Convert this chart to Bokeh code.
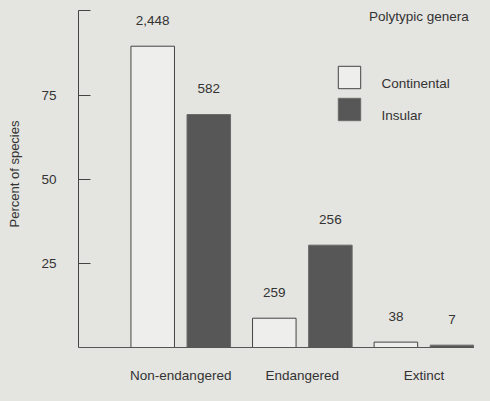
from bokeh.plotting import figure
from bokeh.models import (ColumnDataSource, FixedTicker, Legend, LegendItem, Label, Range1d)
from bokeh.core.properties import value
from bokeh.embed import file_html
from bokeh.resources import INLINE
import numpy as np

# ---- data ----
categories = ["Non-endangered", "Endangered", "Extinct"]
continental_pct = [89.5, 8.7, 1.6]
insular_pct = [69.2, 30.4, 0.7]
continental_n = ["2,448", "259", "38"]
insular_n = ["582", "256", "7"]
series_names = ["Continental", "Insular"]
y_ticks = [25, 50, 75, 100]
y_title = "Percent of species"
panel_title = "Polytypic genera"

BG = "#e4e4e0"
DARK = "#575757"
LIGHT = "#eeeeec"
TXT = "#333333"
FONT = "Liberation Sans"
FS = "13.5px"

idx = np.arange(len(categories))
off = 0.2306
bw = 0.358

src_c = ColumnDataSource(dict(x=idx - off, top=continental_pct, lab=continental_n))
src_i = ColumnDataSource(dict(x=idx + off, top=insular_pct, lab=insular_n))

p = figure(width=474, height=385, output_backend="svg", toolbar_location=None,
           x_range=Range1d(-0.841, 2.416), y_range=Range1d(0, 103.08),
           min_border_left=78, min_border_right=0, min_border_top=0, min_border_bottom=37)
p.background_fill_color = BG
p.border_fill_color = BG
p.outline_line_color = None
p.grid.visible = False

rc = p.vbar(x="x", top="top", width=bw, source=src_c, fill_color=LIGHT,
            line_color="#444444", line_width=1)
ri = p.vbar(x="x", top="top", width=bw, source=src_i, fill_color=DARK,
            line_color="#6a6a6a", line_width=1)

for s in (src_c, src_i):
    p.text(x="x", y="top", text="lab", source=s, y_offset=-26,
           text_align="center", text_baseline="middle",
           text_font=value(FONT), text_font_size=FS, text_color=TXT)

# y axis
ya = p.yaxis[0]
ya.ticker = FixedTicker(ticks=y_ticks)
ya.major_label_overrides = {100: ""}
ya.major_tick_in = 12
ya.major_tick_out = 0
ya.minor_tick_line_color = None
ya.bounds = (0, 100)
ya.axis_line_color = "#444444"
ya.major_tick_line_color = "#444444"
ya.major_label_standoff = 22
ya.major_label_text_font = FONT
ya.major_label_text_font_size = FS
ya.major_label_text_color = TXT
ya.axis_label = y_title
ya.axis_label_text_font = FONT
ya.axis_label_text_font_size = "13px"
ya.axis_label_text_font_style = "normal"
ya.axis_label_text_color = TXT
ya.axis_label_standoff = 16

# x axis
xa = p.xaxis[0]
xa.ticker = FixedTicker(ticks=list(idx))
xa.major_label_overrides = {int(i): c for i, c in zip(idx, categories)}
xa.major_tick_in = 0
xa.major_tick_out = 0
xa.minor_tick_line_color = None
xa.axis_line_color = "#555555"
xa.major_label_standoff = 20
xa.major_label_text_font = FONT
xa.major_label_text_font_size = FS
xa.major_label_text_color = TXT

# legend swatches (texts placed separately, slightly below swatch centres as in the original)
legend = Legend(items=[LegendItem(label=" ", renderers=[rc]),
                       LegendItem(label=" ", renderers=[ri])],
                location=(256.7, 224.4), orientation="vertical",
                glyph_width=28, glyph_height=28, label_height=28,
                spacing=4, padding=0, margin=0, label_standoff=0,
                border_line_alpha=0, background_fill_alpha=0,
                label_text_font_size="1px")
p.add_layout(legend, "center")

for name, ly in zip(series_names, [264.3, 232.0]):
    p.add_layout(Label(x=303, y=ly, x_units="screen", y_units="screen",
                       text=name, text_font=FONT, text_font_size=FS,
                       text_color=TXT, text_baseline="middle"))

p.add_layout(Label(x=290.4, y=331.2, x_units="screen", y_units="screen",
                   text=panel_title, text_font=FONT, text_font_size=FS,
                   text_color=TXT, text_baseline="middle"))

html = file_html(p, INLINE).replace("<head>", "<head><style>html,body{background:%s;}</style>" % BG, 1)
open("out.html", "w").write(html)
